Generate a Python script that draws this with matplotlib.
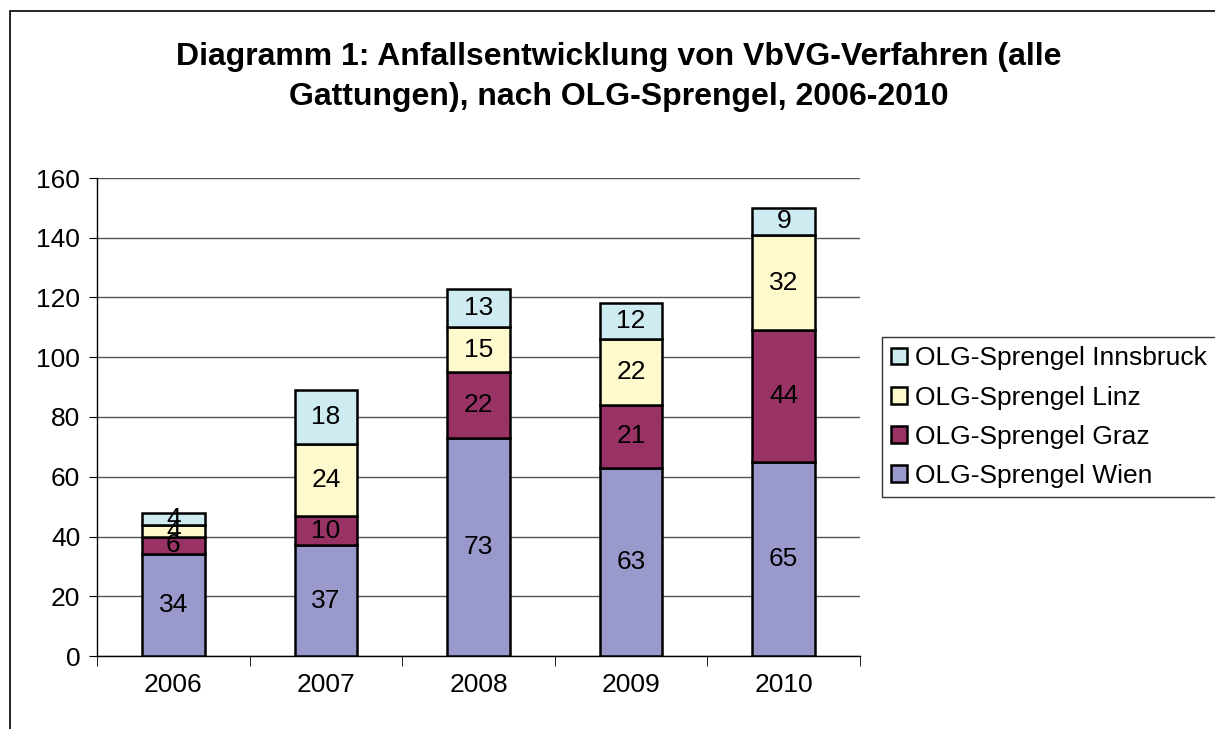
import matplotlib.pyplot as plt
from matplotlib.patches import Rectangle
import numpy as np

plt.rcParams['font.family'] = ['Liberation Sans', 'DejaVu Sans']

years = ['2006', '2007', '2008', '2009', '2010']
wien = [34, 37, 73, 63, 65]
graz = [6, 10, 22, 21, 44]
linz = [4, 24, 15, 22, 32]
innsbruck = [4, 18, 13, 12, 9]

series = [('OLG-Sprengel Wien', wien, '#9999cc'),
          ('OLG-Sprengel Graz', graz, '#993366'),
          ('OLG-Sprengel Linz', linz, '#fffacd'),
          ('OLG-Sprengel Innsbruck', innsbruck, '#cfebf2')]

W, H = 1215, 729
fig = plt.figure(figsize=(W / 100, H / 100), dpi=100)
ax = fig.add_axes([97 / W, 1 - 656 / H, (860 - 97) / W, (656 - 178) / H])

# outer chart border (cut at right and bottom like the reference)
fig.patches.append(Rectangle((10 / W, -0.05), 1.1, 1 - 11 / H + 0.05,
                             transform=fig.transFigure, fill=False,
                             edgecolor='black', linewidth=1.2))

x = np.arange(len(years))
bottom = np.zeros(len(years))
handles = []
for name, vals, col in series:
    bars = ax.bar(x, vals, width=0.41, bottom=bottom, color=col,
                  edgecolor='black', linewidth=1.8, label=name, zorder=3)
    for xi, b, v in zip(x, bottom, vals):
        ax.text(xi, b + v / 2, str(v), ha='center', va='center',
                fontsize=19, zorder=4)
    bottom += np.array(vals)
    handles.append(bars)

ax.set_xlim(-0.5, len(years) - 0.5)
ax.set_ylim(0, 160)
ax.set_yticks(range(0, 161, 20))
ax.set_xticks(x)
ax.set_xticklabels(years)
ax.set_xticks(np.arange(-0.5, len(years)), minor=True)
ax.tick_params(axis='x', which='major', length=0, pad=12, labelsize=19)
ax.tick_params(axis='x', which='minor', length=7, direction='out')
ax.tick_params(axis='y', length=6, direction='out', pad=6, labelsize=19)
ax.yaxis.grid(True, color='#555555', linewidth=1.0, zorder=0)
for s in ['top', 'right']:
    ax.spines[s].set_visible(False)
for s in ['left', 'bottom']:
    ax.spines[s].set_linewidth(1.0)

fig.text(619 / W, 1 - 77 / H,
         'Diagramm 1: Anfallsentwicklung von VbVG-Verfahren (alle\nGattungen), nach OLG-Sprengel, 2006-2010',
         ha='center', va='center', fontsize=23, fontweight='bold', linespacing=1.45)

leg = fig.legend(handles[::-1], [s[0] for s in series][::-1],
                 loc='upper left', bbox_to_anchor=(882 / W, 1 - 337 / H),
                 fontsize=19, frameon=True, fancybox=False, edgecolor='black',
                 handlelength=0.6, handleheight=0.6, handletextpad=0.3,
                 labelspacing=0.58, borderpad=0.35, borderaxespad=0)
leg.get_frame().set_linewidth(1.0)

fig.savefig('out.png', dpi=100)
